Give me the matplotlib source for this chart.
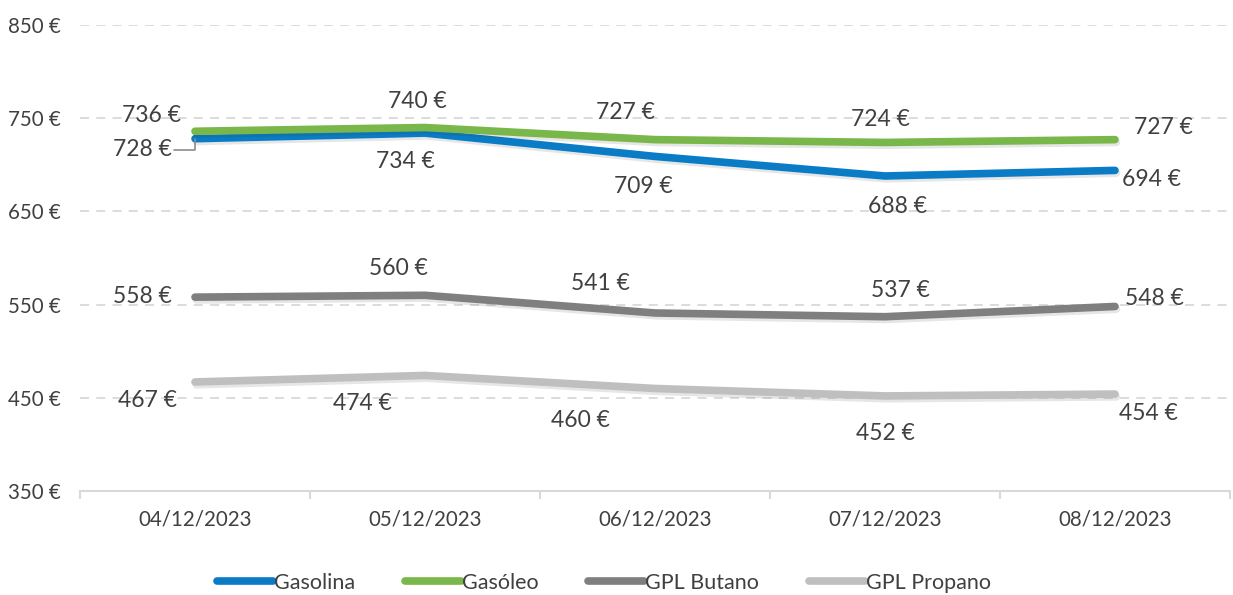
import matplotlib
matplotlib.use("Agg")
import matplotlib.pyplot as plt
import matplotlib.patheffects as pe
from matplotlib.ticker import FixedLocator

dates = ["04/12/2023", "05/12/2023", "06/12/2023", "07/12/2023", "08/12/2023"]
gasolina = [728, 734, 709, 688, 694]
gasoleo = [736, 740, 727, 724, 727]
butano = [558, 560, 541, 537, 548]
propano = [467, 474, 460, 452, 454]
yticks = [350, 450, 550, 650, 750, 850]

series = [
    ("Gasolina", gasolina, "#0A7CC5", [(-53, -11), (-20, -28), (-12, -30), (12, -31), (37, -9)]),
    ("Gasóleo", gasoleo, "#79B74A", [(-43, 16), (-8, 26), (-30, 27), (-5, 23), (48, 12)]),
    ("GPL Butano", butano, "#7F7F7F", [(-53, 1), (-27, 27), (-55, 29), (15, 26), (39, 8)]),
    ("GPL Propano", propano, "#BFBFBF", [(-47, -19), (-63, -28), (-75, -32), (0, -38), (33, -19)]),
]

plt.rcParams['font.family'] = ['Lato', 'DejaVu Sans']
txt = "#404040"

fig = plt.figure(figsize=(12.33, 5.95), dpi=100)
ax = fig.add_axes([80/1233, 1-491/595, 1150/1233, 466/595])

x = list(range(len(dates)))
for name, vals, col, offs in series:
    ax.plot(x, vals, color=col, lw=5.5, solid_capstyle='round', label=name, zorder=3,
            path_effects=[pe.SimpleLineShadow(offset=(1, -2), alpha=0.12, shadow_color='#333333'), pe.Normal()])
    for i, v in enumerate(vals):
        kw = {}
        if name == "Gasolina" and i == 0:
            kw = dict(arrowprops=dict(arrowstyle='-', color='#8c8c8c', lw=1.2,
                                      connectionstyle='angle,angleA=0,angleB=90,rad=0',
                                      shrinkA=0, shrinkB=0, relpos=(1.05, 0.5)))
        ax.annotate(f"{v} €", (i, v), xytext=offs[i], textcoords='offset pixels',
                    ha='center', va='center', fontsize=16.5, color=txt, zorder=5, **kw)

ax.set_xlim(-0.5, len(dates) - 0.5)
ax.set_ylim(350, 850)
ax.set_yticks(yticks)
ax.set_yticklabels([f"{t} €" for t in yticks], fontsize=14.8, color=txt)
ax.set_xticks(x)
ax.set_xticklabels(dates, fontsize=14.8, color=txt)
ax.xaxis.set_minor_locator(FixedLocator([i - 0.5 for i in range(len(dates) + 1)]))
ax.tick_params(axis='x', which='major', length=0, pad=13)
ax.tick_params(axis='x', which='minor', length=6, color='#D9D9D9', width=1.5)
ax.tick_params(axis='y', length=0, pad=14)
ax.grid(axis='y', color='#D9D9D9', linestyle=(0, (5, 4)), lw=1.3, zorder=0)
for s in ['left', 'right', 'top']:
    ax.spines[s].set_visible(False)
ax.spines['bottom'].set_color('#D9D9D9')
ax.spines['bottom'].set_linewidth(1.5)
ax.set_axisbelow(True)

leg = fig.legend(loc='center', bbox_to_anchor=(604/1233, 1-583/595), ncol=4, frameon=False,
                 fontsize=15.5, handlelength=2.6, handletextpad=0.05, columnspacing=2.3)
for t in leg.get_texts():
    t.set_color(txt)
for h in leg.legend_handles:
    h.set_path_effects([])
    h.set_linewidth(5.5)

fig.savefig("out.png", dpi=100)
